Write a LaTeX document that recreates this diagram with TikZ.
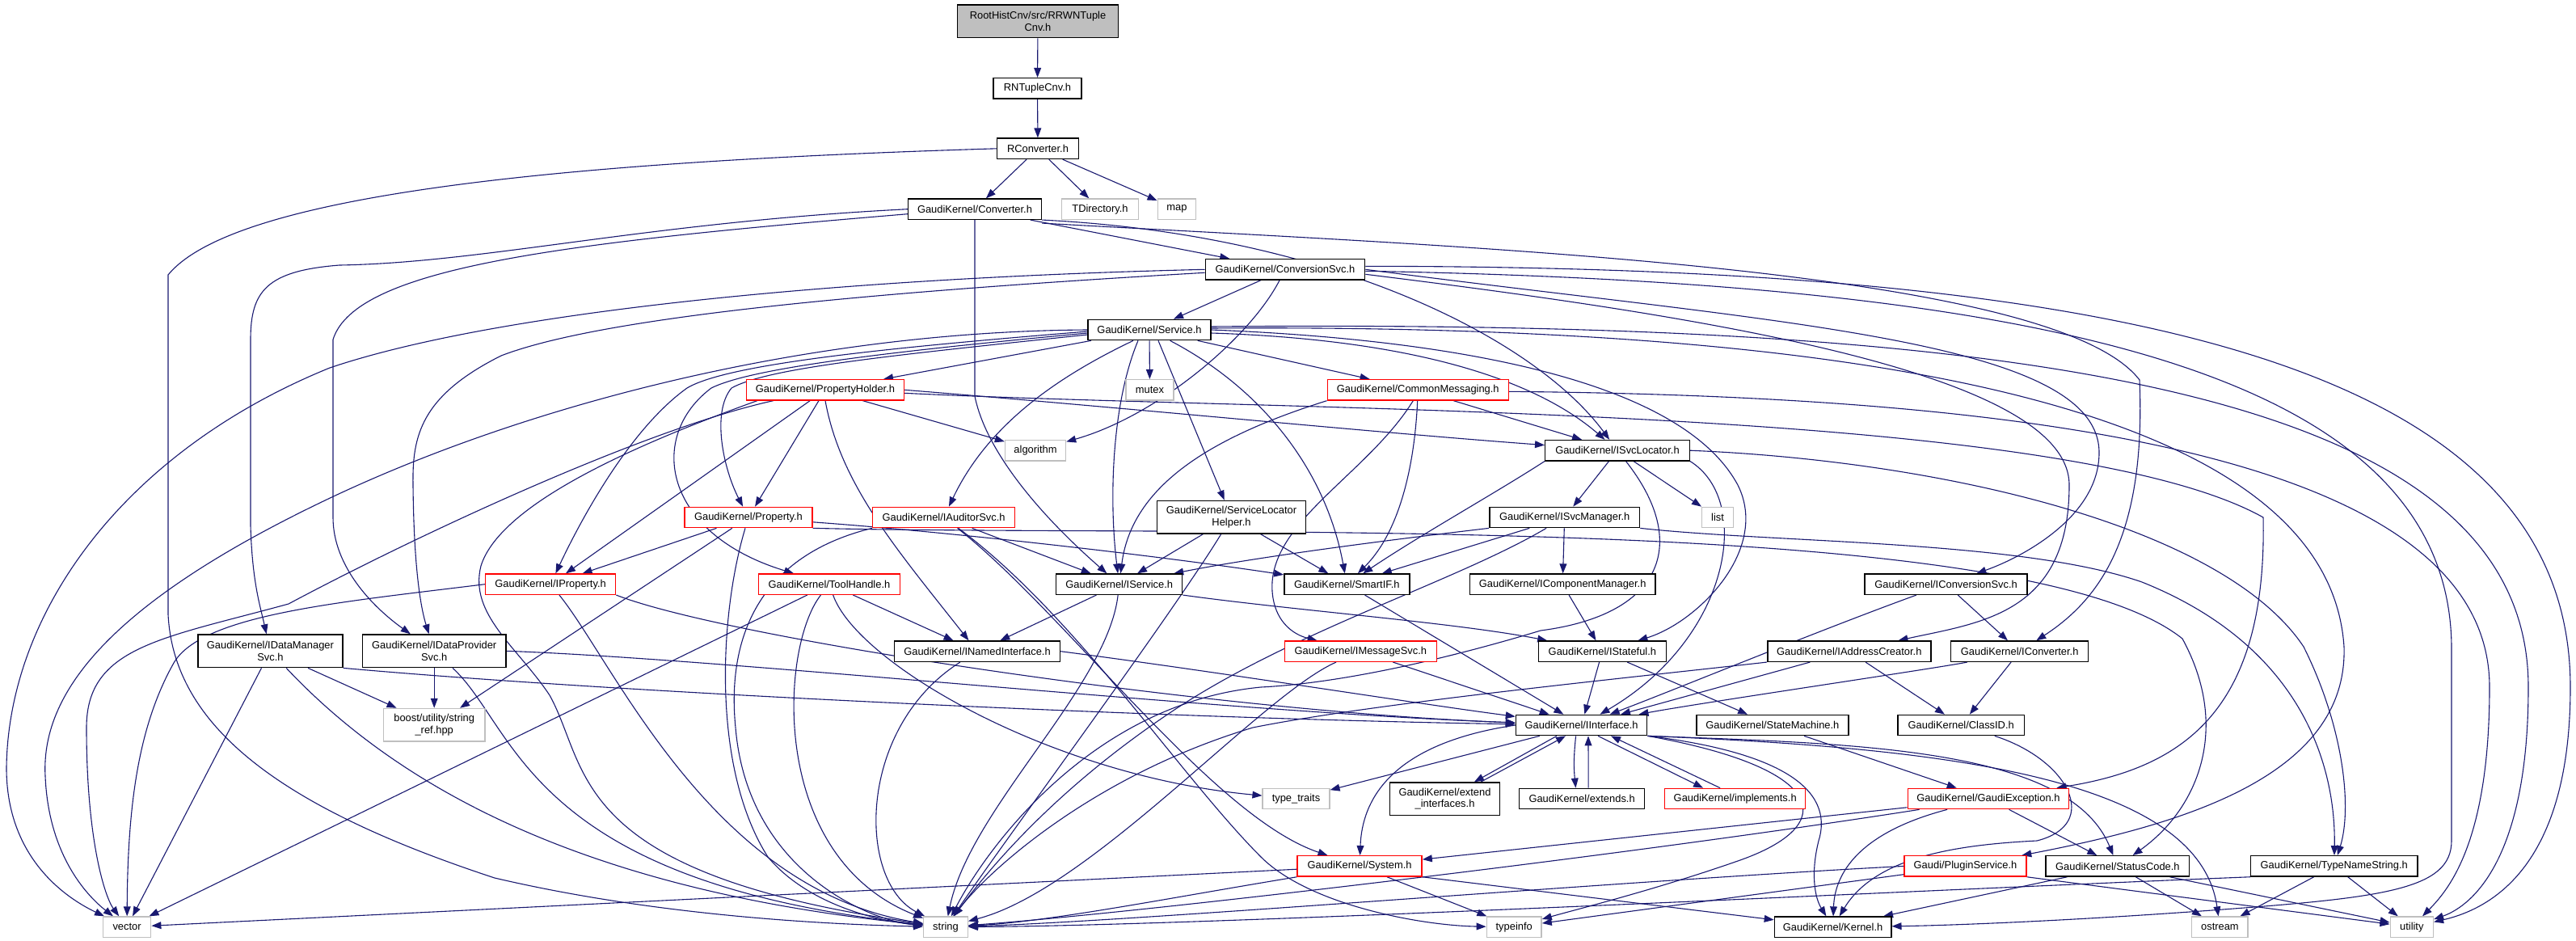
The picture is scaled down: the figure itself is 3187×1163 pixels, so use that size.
\documentclass[tikz,border=0pt]{standalone}
\usepackage{fontspec}
\setmainfont{Liberation Sans}
\usetikzlibrary{arrows.meta}
\pgfdeclarelayer{bg}
\pgfsetlayers{bg,main}
\definecolor{edgec}{RGB}{25,25,112}
\definecolor{greyb}{RGB}{191,191,191}
\begin{document}
\begin{tikzpicture}[x=0.5pt,y=-0.5pt,
 nbox/.style={draw=black, line width=0.7pt, fill=white, rectangle, inner sep=0pt, minimum height=12.65pt, font=\fontsize{6.45}{7.2}\selectfont, align=center},
 bw/.style={minimum width=#1*0.5pt},
 rbox/.style={nbox, draw=red},
 gbox/.style={nbox, draw=greyb},
 tall/.style={minimum height=20.35pt},
 ed/.style={draw=edgec, line width=0.55pt, -{Triangle[length=6pt,width=4.4pt]}}]
\useasboundingbox (0,0) rectangle (3187,1163);
% nodes
\node[nbox,bw=198.5,tall,fill=greyb] (rrwn) at (1284,26.3) {RootHistCnv/src/RRWNTuple\\Cnv.h};
\node[nbox,bw=109] (rntc) at (1283.5,109.3) {RNTupleCnv.h};
\node[nbox,bw=100.5] (rconv) at (1284,183.8) {RConverter.h};
\node[nbox,bw=165] (conv) at (1206,258.7) {GaudiKernel/Converter.h};
\node[gbox,bw=95.4] (tdir) at (1361,258.7) {TDirectory.h};
\node[gbox,bw=47.5] (map) at (1456,258.7) {map};
\node[nbox,bw=197.5] (csvc) at (1590,333.3) {GaudiKernel/ConversionSvc.h};
\node[nbox,bw=152] (svc) at (1422,408) {GaudiKernel/Service.h};
\node[rbox,bw=195] (ph) at (1021,482.3) {GaudiKernel/PropertyHolder.h};
\node[gbox,bw=59] (mutex) at (1422.5,482.3) {mutex};
\node[rbox,bw=224] (cm) at (1754.3,482.3) {GaudiKernel/CommonMessaging.h};
\node[gbox,bw=75] (algo) at (1281,557.2) {algorithm};
\node[nbox,bw=178.6] (isl) at (2001,557.2) {GaudiKernel/ISvcLocator.h};
\node[rbox,bw=158] (prop) at (926,640) {GaudiKernel/Property.h};
\node[rbox,bw=176] (iaud) at (1167.6,640) {GaudiKernel/IAuditorSvc.h};
\node[nbox,bw=183.7,tall] (slh) at (1523.5,639.7) {GaudiKernel/ServiceLocator\\Helper.h};
\node[nbox,bw=185.7] (ism) at (1935.7,640) {GaudiKernel/ISvcManager.h};
\node[gbox,bw=38.8] (list) at (2125,640) {list};
\node[rbox,bw=161.2] (iprop) at (681.1,722.7) {GaudiKernel/IProperty.h};
\node[rbox,bw=174.5] (tool) at (1026,722.7) {GaudiKernel/ToolHandle.h};
\node[nbox,bw=156] (isvc) at (1384.7,722.7) {GaudiKernel/IService.h};
\node[nbox,bw=155] (smart) at (1666.3,722.7) {GaudiKernel/SmartIF.h};
\node[nbox,bw=229.6] (icm) at (1933.2,722.7) {GaudiKernel/IComponentManager.h};
\node[nbox,bw=201] (icsvc) at (2407.6,722.7) {GaudiKernel/IConversionSvc.h};
\node[nbox,bw=179,tall] (idms) at (334.4,805.3) {GaudiKernel/IDataManager\\Svc.h};
\node[nbox,bw=177.5,tall] (idps) at (537.2,805.3) {GaudiKernel/IDataProvider\\Svc.h};
\node[nbox,bw=205] (ini) at (1209,805.7) {GaudiKernel/INamedInterface.h};
\node[rbox,bw=188] (imsg) at (1683.4,805.7) {GaudiKernel/IMessageSvc.h};
\node[nbox,bw=157.6] (istf) at (1982.4,805.7) {GaudiKernel/IStateful.h};
\node[nbox,bw=202] (iac) at (2287.8,805.7) {GaudiKernel/IAddressCreator.h};
\node[nbox,bw=170] (icnv) at (2498.7,805.7) {GaudiKernel/IConverter.h};
\node[gbox,bw=125.5,tall] (boost) at (537.2,896.8) {boost/utility/string\\\_ref.hpp};
\node[nbox,bw=162.3] (iint) at (1956.6,897) {GaudiKernel/IInterface.h};
\node[nbox,bw=187.8] (sm) at (2192.9,897) {GaudiKernel/StateMachine.h};
\node[nbox,bw=156.4] (cid) at (2426.2,897) {GaudiKernel/ClassID.h};
\node[gbox,bw=82.7] (tt) at (1603.5,988) {type\_traits};
\node[nbox,bw=136.2,tall] (ext) at (1787.5,988.3) {GaudiKernel/extend\\\_interfaces.h};
\node[nbox,bw=155] (exts) at (1957.1,988) {GaudiKernel/extends.h};
\node[rbox,bw=174] (impl) at (2146.7,988) {GaudiKernel/implements.h};
\node[rbox,bw=199.4] (gex) at (2459.9,988) {GaudiKernel/GaudiException.h};
\node[rbox,bw=154] (sys) at (1682.1,1071.4) {GaudiKernel/System.h};
\node[rbox,bw=150.8] (plug) at (2431.5,1071.4) {Gaudi/PluginService.h};
\node[nbox,bw=177.7] (stc) at (2619.9,1071.4) {GaudiKernel/StatusCode.h};
\node[nbox,bw=206.4] (tns) at (2887.7,1071.4) {GaudiKernel/TypeNameString.h};
\node[gbox,bw=59.2] (vec) at (157.1,1146.7) {vector};
\node[gbox,bw=54.5] (str) at (1170,1146.7) {string};
\node[gbox,bw=67.8] (tinfo) at (1873.2,1146.7) {typeinfo};
\node[nbox,bw=144.4] (kern) at (2267.6,1146.7) {GaudiKernel/Kernel.h};
\node[gbox,bw=69.3] (ostr) at (2746.4,1146.7) {ostream};
\node[gbox,bw=53.2] (util) at (2983.8,1146.7) {utility};
\begin{pgfonlayer}{bg}
% edges: top chain
\draw[ed] (rrwn) -- (rntc);
\draw[ed] (rntc) -- (rconv);
\draw[ed] (rconv) -- (conv);
\draw[ed] (rconv) -- (tdir);
\draw[ed] (rconv) -- (map);
\draw[ed] (rconv.west) .. controls (700,200) and (290,240) .. (208,340) -- (208,760) .. controls (215,900) and (350,1000) .. (612,1086) .. controls (800,1130) and (1000,1143) .. (str);
% Converter
\draw[ed] (conv) -- (csvc);
\draw[ed] (conv.west) .. controls (800,275) and (600,325) .. (420,328) .. controls (330,335) and (310,360) .. (310,420) -- (310,650) .. controls (312,720) and (322,750) .. (idms);
\draw[ed] ([yshift=-3pt]conv.west) .. controls (700,300) and (440,330) .. (412,420) -- (412,640) .. controls (412,700) and (460,750) .. (idps);
\draw[ed] (conv.south) -- (1206,490) .. controls (1220,560) and (1290,640) .. (isvc);
\draw[ed] (conv.south east) .. controls (1650,290) and (1900,420) .. (isl);
\draw[ed] ([yshift=-2pt]conv.south east) .. controls (1800,305) and (2540,330) .. (2647,470) .. controls (2655,660) and (2600,740) .. (icnv);
% ConversionSvc
\draw[ed] (csvc) -- (svc);
\draw[ed] (csvc) .. controls (1545,420) and (1430,515) .. (algo);
\draw[ed] (csvc.west) .. controls (1000,345) and (600,390) .. (408,455) .. controls (150,560) and (10,760) .. (8,950) .. controls (8,1060) and (80,1110) .. (vec);
\draw[ed] ([yshift=-2pt]csvc.west) .. controls (1100,360) and (750,390) .. (620,440) .. controls (520,490) and (510,540) .. (511,600) .. controls (512,700) and (520,750) .. (idps);
\draw[ed] (csvc.east) .. controls (2200,400) and (2597,420) .. (2597,560) .. controls (2597,640) and (2500,690) .. (icsvc);
\draw[ed] ([yshift=-3pt]csvc.east) .. controls (2100,390) and (2560,460) .. (2560,600) .. controls (2560,760) and (2450,770) .. (iac);
\draw[ed] ([yshift=-1pt]csvc.east) .. controls (2500,350) and (3030,450) .. (3033,800) -- (3033,1040) .. controls (3033,1100) and (2950,1110) .. (2750,1125) .. controls (2550,1140) and (2400,1145) .. (kern);
\draw[ed] ([yshift=2pt]csvc.east) .. controls (2600,330) and (3180,440) .. (3180,850) .. controls (3180,1050) and (3100,1120) .. (util);
% Service
\draw[ed] (svc) -- (ph);
\draw[ed] (svc) -- (mutex);
\draw[ed] (svc) -- (cm);
\draw[ed] ([xshift=-10pt]svc.south) .. controls (1300,470) and (1220,530) .. (iaud);
\draw[ed] ([xshift=-7pt]svc.south) .. controls (1375,500) and (1372,620) .. (isvc);
\draw[ed] ([xshift=5.5pt]svc.south) -- (slh);
\draw[ed] (svc) .. controls (1560,480) and (1640,580) .. (smart);
\draw[ed] ([yshift=-2pt]svc.east) .. controls (1750,420) and (1900,470) .. (isl);
\draw[ed] (svc.east) .. controls (1800,420) and (2080,470) .. (2150,600) .. controls (2190,680) and (2100,770) .. (istf);
\draw[ed] ([yshift=1pt]svc.east) .. controls (2300,400) and (2880,500) .. (2900,800) .. controls (2905,960) and (2700,1020) .. (plug);
\draw[ed] ([yshift=2pt]svc.east) .. controls (2500,395) and (3128,480) .. (3128,850) .. controls (3128,1060) and (3060,1120) .. (util);
\draw[ed] ([yshift=-3pt]svc.west) .. controls (1100,440) and (950,455) .. (905,480) .. controls (880,510) and (895,580) .. (prop);
\draw[ed] ([yshift=-2pt]svc.west) .. controls (1100,435) and (930,455) .. (880,480) .. controls (800,540) and (820,660) .. (tool);
\draw[ed] ([yshift=-1pt]svc.west) .. controls (1100,430) and (900,450) .. (850,480) .. controls (780,530) and (720,640) .. (iprop);
\draw[ed] (svc.west) .. controls (1000,410) and (650,500) .. (400,620) .. controls (150,740) and (50,850) .. (56,960) .. controls (60,1060) and (110,1110) .. (vec);
% PropertyHolder
\draw[ed] (ph) -- (algo);
\draw[ed] (ph) -- (prop);
\draw[ed] (ph) -- (iprop);
\draw[ed] (ph.south) .. controls (1040,600) and (1110,680) .. (ini);
\draw[ed] (ph.east) .. controls (1400,505) and (1700,535) .. (isl);
\draw[ed] ([xshift=17pt]ph.south west) .. controls (800,530) and (520,660) .. (357,747) .. controls (200,790) and (107,800) .. (107,900) .. controls (107,1040) and (130,1110) .. (vec);
\draw[ed] ([xshift=7pt]ph.south west) .. controls (800,545) and (620,620) .. (595,700) .. controls (580,760) and (640,800) .. (680,860) .. controls (730,950) and (700,1080) .. (str);
\draw[ed] ([yshift=-2pt]ph.east) .. controls (1600,510) and (2550,500) .. (2800,640) .. controls (2805,880) and (2700,950) .. (gex);
% CommonMessaging
\draw[ed] (cm.south west) .. controls (1500,540) and (1400,600) .. (isvc);
\draw[ed] (cm) .. controls (1750,580) and (1730,660) .. (smart);
\draw[ed] ([xshift=-3pt]cm.south) .. controls (1690,590) and (1560,650) .. (1575,740) .. controls (1580,770) and (1600,785) .. (imsg);
\draw[ed] (cm) -- (isl);
\draw[ed] ([yshift=-1pt]cm.east) .. controls (2500,490) and (3080,560) .. (3080,850) .. controls (3080,1040) and (3030,1100) .. (util);
% ISvcLocator
\draw[ed] (isl) -- (ism);
\draw[ed] (isl) -- (list);
\draw[ed] (isl.south west) .. controls (1850,610) and (1760,660) .. (smart);
\draw[ed] (isl) .. controls (2090,670) and (2060,760) .. (1906,780) .. controls (1790,815) and (1660,845) .. (1560,850) .. controls (1350,870) and (1220,1050) .. (str);
\draw[ed] (isl.south east) .. controls (2170,620) and (2140,790) .. (iint);
\draw[ed] (isl.east) .. controls (2400,570) and (2750,650) .. (2850,800) .. controls (2900,900) and (2910,1000) .. (tns);
% Property
\draw[ed] (prop) -- (iprop);
\draw[ed] (prop) -- (boost);
\draw[ed] (prop) .. controls (890,760) and (880,950) .. (950,1060) .. controls (1000,1120) and (1090,1140) .. (str);
\draw[ed] (prop) .. controls (1200,660) and (1450,690) .. (smart);
\draw[ed] (prop.south east) .. controls (1500,665) and (2500,630) .. (2700,790) .. controls (2760,900) and (2720,1000) .. (stc);
% IAuditorSvc
\draw[ed] (iaud.south west) .. controls (930,690) and (900,800) .. (910,900) .. controls (925,1080) and (1080,1140) .. (str);
\draw[ed] (iaud) -- (isvc);
\draw[ed] (iaud) .. controls (1320,760) and (1500,1010) .. (sys);
\draw[ed] (iaud) .. controls (1330,760) and (1460,960) .. (1560,1060) .. controls (1620,1120) and (1760,1145) .. (tinfo);
% ServiceLocatorHelper
\draw[ed] (slh) -- (isvc);
\draw[ed] (slh) -- (smart);
\draw[ed] (slh) .. controls (1450,760) and (1250,1030) .. (str);
% ISvcManager
\draw[ed] (ism.south west) .. controls (1700,670) and (1550,690) .. (isvc);
\draw[ed] (ism) -- (smart);
\draw[ed] (ism) .. controls (1800,720) and (1600,780) .. (1450,880) .. controls (1300,980) and (1220,1080) .. (str);
\draw[ed] (ism) -- (icm);
\draw[ed] (ism.south east) .. controls (2200,672) and (2500,668) .. (2650,720) .. controls (2850,800) and (2890,950) .. (tns);
% IProperty
\draw[ed] (iprop.west) .. controls (420,745) and (250,760) .. (215,820) .. controls (170,900) and (158,1000) .. (vec);
\draw[ed] (iprop) .. controls (760,820) and (880,1100) .. (str);
\draw[ed] (iprop.south east) .. controls (900,790) and (1500,880) .. (iint);
% ToolHandle
\draw[ed] (tool) -- (vec);
\draw[ed] (tool) .. controls (965,800) and (950,1060) .. (str);
\draw[ed] (tool) .. controls (1060,820) and (1300,960) .. (tt);
\draw[ed] (tool) -- (ini);
% IService
\draw[ed] (isvc) -- (ini);
\draw[ed] (isvc) .. controls (1370,850) and (1200,1000) .. (str);
\draw[ed] (isvc.south east) .. controls (1600,755) and (1800,770) .. (istf);
% others middle
\draw[ed] (smart) -- (iint);
\draw[ed] (icm) -- (istf);
\draw[ed] (icsvc) -- (icnv);
\draw[ed] (icsvc) .. controls (2250,780) and (2080,850) .. (iint);
\draw[ed] (idms) -- (vec);
\draw[ed] (idms) .. controls (480,960) and (700,1100) .. (str);
\draw[ed] (idms) -- (boost);
\draw[ed] (idms.south east) .. controls (800,860) and (1500,890) .. (iint);
\draw[ed] (idps) -- (boost);
\draw[ed] (idps) .. controls (640,900) and (650,1090) .. (str);
\draw[ed] (idps.east) .. controls (900,815) and (1500,880) .. (iint);
\draw[ed] (ini.east) .. controls (1500,830) and (1750,870) .. (iint);
\draw[ed] (ini) .. controls (1060,900) and (1060,1090) .. (str);
\draw[ed] (imsg) -- (iint);
\draw[ed] (imsg) .. controls (1560,860) and (1350,1100) .. (str);
\draw[ed] (istf) -- (iint);
\draw[ed] (istf) -- (sm);
\draw[ed] (iac) -- (iint);
\draw[ed] (iac) -- (cid);
\draw[ed] (iac.south west) .. controls (2000,840) and (1700,870) .. (1550,900) .. controls (1350,960) and (1220,1080) .. (str);
\draw[ed] (icnv) .. controls (2400,826) and (2100,870) .. (iint);
\draw[ed] (icnv) -- (cid);
% IInterface
\draw[ed] (iint.south east) .. controls (2200,930) and (2270,975) .. (2250,1040) .. controls (2240,1080) and (2245,1110) .. (kern);
\draw[ed] (iint.south east) .. controls (2300,920) and (2560,925) .. (stc);
\draw[ed] (iint.south east) .. controls (2400,925) and (2720,960) .. (ostr);
\draw[ed] (iint) -- (tt);
\draw[ed] (iint.west) .. controls (1720,920) and (1685,990) .. (sys);
\draw[ed] (iint.south east) .. controls (2260,950) and (2280,1020) .. (2150,1065) .. controls (2050,1100) and (1950,1125) .. (tinfo);
\draw[ed] ([xshift=-15.3pt]iint.south) -- ([xshift=18.2pt]ext.north);
\draw[ed] ([xshift=22.2pt]ext.north) -- ([xshift=-9.8pt]iint.south);
\draw[ed] ([xshift=-3.5pt]iint.south) to[bend right=6] ([xshift=-3.8pt]exts.north);
\draw[ed] ([xshift=4pt]exts.north) -- ([xshift=4.2pt]iint.south);
\draw[ed] ([xshift=10.2pt]iint.south) -- ([xshift=-19.8pt]impl.north);
\draw[ed] ([xshift=-9.3pt]impl.north) -- ([xshift=18.2pt]iint.south);
% lower
\draw[ed] (sm) -- (gex);
\draw[ed] (cid) .. controls (2560,940) and (2600,1020) .. (2520,1040) .. controls (2420,1045) and (2320,1060) .. (kern);
\draw[ed] (gex) -- (stc);
\draw[ed] (gex) -- (sys);
\draw[ed] (gex) .. controls (2000,1060) and (1400,1130) .. (str);
\draw[ed] (gex) .. controls (2300,1030) and (2270,1080) .. (kern);
\draw[ed] (sys.south west) .. controls (1450,1110) and (1300,1140) .. (str);
\draw[ed] (sys) -- (vec);
\draw[ed] (sys) -- (tinfo);
\draw[ed] (sys.south east) -- (kern);
\draw[ed] (plug.west) .. controls (2000,1090) and (1400,1140) .. (str);
\draw[ed] (plug) -- (tinfo);
\draw[ed] (plug.south east) -- (util);
\draw[ed] (stc) -- (kern);
\draw[ed] (stc) -- (ostr);
\draw[ed] (stc) -- (util);
\draw[ed] (tns.south west) .. controls (2400,1100) and (1500,1145) .. (str);
\draw[ed] (tns) -- (ostr);
\draw[ed] (tns) -- (util);
\end{pgfonlayer}
\end{tikzpicture}
\end{document}
